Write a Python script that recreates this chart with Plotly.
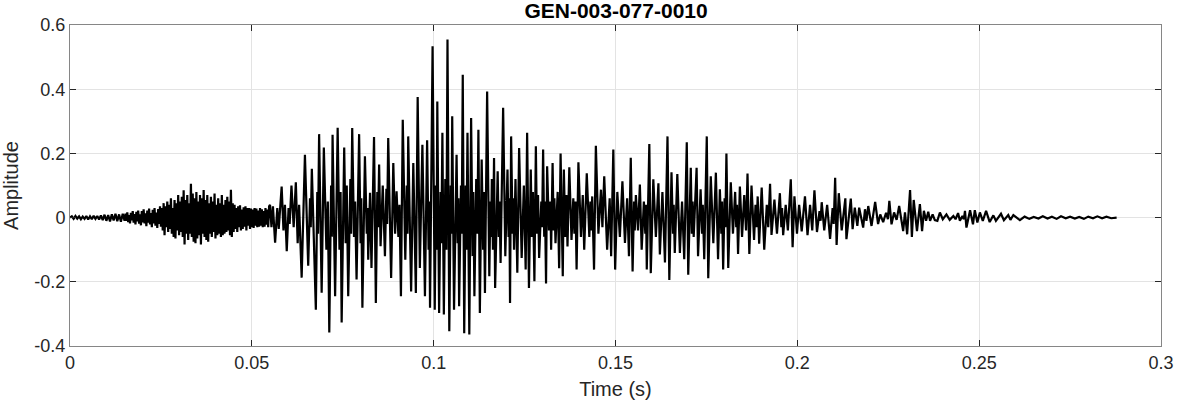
import plotly.graph_objects as go

# ---------------- data (time in ms, amplitude) ----------------
onset_t = [0.0, 0.5, 1.0, 1.5, 2.0, 2.5, 3.0, 3.5, 4.0, 4.5, 5.0, 5.5, 6.0, 6.5, 7.0, 7.5, 8.0, 8.5,
           9.0, 9.5, 10.0, 10.5, 11.0, 11.5, 12.0, 12.5, 13.0, 13.5, 14.0, 14.5, 15.0,
           15.25, 15.5, 15.75, 16.0, 16.25, 16.5, 16.75, 17.0, 17.25, 17.5, 17.75, 18.0, 18.25, 18.5,
           18.75, 19.0, 19.25, 19.5, 19.75, 20.0, 20.25, 20.5, 20.75, 21.0, 21.25, 21.5, 21.75, 22.0,
           22.25, 22.5, 22.75, 23.0, 23.25, 23.5, 23.75, 24.0, 24.25, 24.5, 24.75, 25.0,
           25.25, 25.5, 25.75, 26.0, 26.25, 26.5, 26.75, 27.0, 27.25, 27.5, 27.75, 28.0, 28.25, 28.5,
           28.75, 29.0, 29.25, 29.5, 29.75, 30.0, 30.25, 30.5, 30.75, 31.0, 31.25, 31.5, 31.75, 32.0,
           32.25, 32.5, 32.75, 33.0, 33.25, 33.5, 33.75, 34.0, 34.25, 34.5, 34.75, 35.0, 35.25, 35.5,
           35.75, 36.0, 36.25, 36.5, 36.75, 37.0, 37.25, 37.5, 37.75, 38.0, 38.25, 38.5, 38.75, 39.0,
           39.25, 39.5, 39.75, 40.0, 40.25, 40.5, 40.75, 41.0, 41.25, 41.5, 41.75, 42.0, 42.25, 42.5,
           42.75, 43.0, 43.25, 43.5, 43.75, 44.0, 44.25, 44.5, 44.75, 45.0,
           45.25, 45.5, 45.75, 46.0, 46.25, 46.5, 46.75, 47.0, 47.25, 47.5, 47.75, 48.0, 48.25, 48.5,
           48.75, 49.0, 49.25, 49.5, 49.75, 50.0, 50.25, 50.5, 50.75, 51.0, 51.25, 51.5, 51.75, 52.0,
           52.25, 52.5, 52.75, 53.0, 53.25, 53.5, 53.75, 54.0, 54.25, 54.5, 54.75]
onset_a = [0.000, 0.004, -0.004, 0.005, -0.003, 0.004, -0.005, 0.003, -0.004, 0.005, -0.006, 0.004,
           -0.005, 0.006, -0.004, 0.005, -0.006, 0.007, -0.008, 0.009, -0.010, 0.008, -0.012, 0.010,
           -0.009, 0.012, -0.011, 0.010, -0.013, 0.012, -0.010,
           0.012, -0.010, 0.016, -0.014, 0.008, -0.018, 0.015, -0.009, 0.020, -0.016, 0.011, -0.021,
           0.018, -0.012, 0.022, -0.019, 0.010, -0.024, 0.020, -0.015, 0.026, -0.018, 0.013, -0.027,
           0.022, -0.016, 0.028, -0.021, 0.014, -0.030, 0.024, -0.018, 0.030, -0.025, 0.016, -0.032,
           0.027, -0.020, 0.035, -0.028,
           0.030, -0.040, 0.045, -0.055, 0.035, -0.030, 0.050, -0.045, 0.040, -0.035, 0.060, -0.050,
           0.030, -0.060, 0.055, -0.065, 0.045, -0.040, 0.070, -0.055, 0.050, -0.045, 0.065, -0.060,
           0.085, -0.084, 0.055, -0.050, 0.070, -0.070, 0.045, -0.050, 0.105, -0.060, 0.075, -0.075,
           0.060, -0.080, 0.080, -0.065, 0.050, -0.055, 0.070, -0.084, 0.060, -0.050, 0.086, -0.060,
           0.055, -0.070, 0.070, -0.075, 0.045, -0.050, 0.065, -0.060, 0.050, -0.045, 0.075, -0.065,
           0.040, -0.055, 0.060, -0.050, 0.045, -0.060, 0.070, -0.055, 0.040, -0.050, 0.055, -0.045,
           0.065, -0.040, 0.050, -0.055, 0.087, -0.060, 0.045, -0.045,
           0.040, -0.035, 0.030, -0.045, 0.035, -0.030, 0.038, -0.040, 0.025, -0.035, 0.032, -0.028,
           0.035, -0.040, 0.030, -0.025, 0.030, -0.035, 0.028, -0.030, 0.025, -0.032, 0.030, -0.025,
           0.028, -0.030, 0.022, -0.028, 0.030, -0.025, 0.026, -0.030, 0.020, -0.028, 0.030, -0.022,
           0.025, -0.030, 0.035]

burst_t = [55.0, 55.4, 55.8, 56.4, 57.0, 57.4, 58.2, 58.7, 59.1, 59.6, 60.1, 60.4, 60.9, 61.5, 62.1,
           62.6, 63.0, 63.7, 64.6, 65.5, 66.0, 66.2, 66.5, 67.6, 68.0, 68.2, 68.5, 69.2, 69.8, 70.5,
           70.9, 71.3, 71.8, 72.0, 72.2, 72.9, 73.6, 74.1, 74.4, 74.7, 75.4, 75.8, 76.1, 76.5, 77.1,
           77.3, 77.6, 78.1, 78.4, 78.8, 79.5, 79.9, 80.1, 80.4, 81.1, 81.6, 81.8, 82.0, 82.5, 82.9,
           83.6, 84.1, 84.5, 84.7, 85.0, 85.4, 86.0, 86.6, 87.0, 87.2, 87.5, 88.3, 88.9, 89.4, 89.8,
           90.3, 90.6, 91.0, 91.5, 92.2, 92.6, 92.8, 93.0, 93.8, 94.4, 95.1, 95.6, 96.2, 96.6, 96.9,
           97.6, 98.2, 98.6, 98.8, 99.0, 99.7, 100.3, 100.6, 100.8, 101.0, 101.5]
burst_a = [0.040, -0.030, 0.035, -0.078, 0.030, -0.035, 0.097, -0.040, 0.040, -0.105, 0.030, -0.020,
           0.100, -0.030, 0.110, -0.080, 0.040, -0.187, 0.196, -0.150, 0.060, -0.030, 0.152, -0.287,
           0.080, -0.050, 0.260, -0.234, 0.218, -0.100, 0.050, -0.358, 0.100, -0.060, 0.258, -0.245,
           0.280, -0.100, 0.080, -0.327, 0.218, -0.080, 0.100, -0.245, 0.120, -0.050, 0.279, -0.060,
           0.050, -0.193, 0.260, -0.080, 0.060, -0.281, 0.191, -0.050, 0.030, -0.131, 0.077, -0.157,
           0.251, -0.266, 0.080, -0.030, 0.165, -0.089, 0.100, -0.120, 0.090, -0.020, 0.248, -0.188,
           0.170, -0.050, 0.082, -0.060, 0.040, -0.245, 0.305, -0.131, 0.100, -0.050, 0.253, -0.230,
           0.170, -0.235, 0.376, -0.157, 0.070, 0.227, -0.245, 0.241, -0.100, 0.050, -0.281, 0.534,
           -0.287, 0.100, -0.100, 0.362, -0.297]

peak_t = [101.9, 102.1, 102.4, 102.8, 103.2, 103.5, 103.8, 104.3, 104.7, 104.9, 105.1, 105.6, 106.3,
          106.6, 106.8, 107.0, 107.5, 107.7, 108.0, 108.4, 108.8, 109.0, 109.3, 109.8, 110.3, 110.7,
          110.9, 111.2, 111.7, 112.0, 112.3, 112.7, 113.2, 113.6, 113.8, 114.1, 114.7, 115.3, 115.6,
          115.8, 116.0, 116.3, 116.6, 116.9, 117.6, 117.9, 118.1, 118.4, 119.1, 119.7, 120.3, 120.6,
          120.8, 121.0, 121.3, 121.7, 121.9, 122.1, 122.5, 123.0, 123.5, 124.2, 124.8, 125.3, 125.7,
          126.2, 126.7, 127.0, 127.3, 127.7, 128.1, 128.4, 128.7, 129.0, 129.6, 129.8, 130.1, 130.4,
          130.6, 130.9, 131.2, 131.7, 132.1, 132.3, 132.7, 133.0, 133.2, 133.5, 134.1, 134.5, 134.9,
          135.5, 135.8, 136.2, 136.5, 136.8, 137.3, 137.9, 138.4, 138.7, 139.0, 139.3, 139.8, 140.5,
          141.0, 141.4, 142.1, 142.8, 143.1, 143.3, 143.6, 144.1, 144.6, 145.3, 146.0, 146.4, 146.9,
          147.7, 148.4, 148.8, 149.4, 149.9, 150.5]
peak_a = [0.080, -0.080, 0.264, -0.302, 0.120, -0.100, 0.555, -0.354, 0.100, -0.050, 0.316, -0.287,
          0.196, -0.080, 0.060, -0.276, 0.100, -0.050, 0.445, -0.360, 0.100, -0.100, 0.264, -0.364,
          0.310, -0.120, 0.080, -0.245, 0.120, -0.050, 0.274, -0.297, 0.181, -0.100, 0.080, -0.235,
          0.393, -0.183, 0.050, -0.060, 0.120, -0.100, 0.186, -0.219, 0.144, -0.060, 0.050, -0.141,
          0.342, -0.120, 0.150, -0.060, 0.060, -0.266, 0.253, -0.050, 0.060, -0.100, 0.120, -0.172,
          0.217, -0.126, 0.100, -0.162, 0.264, -0.219, 0.150, -0.060, 0.080, -0.198, 0.222, -0.050,
          0.070, -0.126, 0.050, -0.030, 0.212, -0.060, 0.050, -0.205, 0.160, -0.040, 0.050, -0.100,
          0.170, -0.040, 0.060, -0.080, 0.080, -0.158, 0.200, -0.183, 0.150, -0.060, 0.070, -0.090,
          0.157, -0.070, 0.060, -0.050, 0.050, -0.162, 0.172, -0.060, 0.070, -0.100, 0.138, -0.060,
          0.050, -0.040, 0.066, -0.162, 0.224, -0.050, 0.087, -0.030, 0.129, -0.100, 0.060, -0.120,
          0.212, -0.162, 0.080]

decay_t = [151.2, 151.9, 152.6, 153.2, 153.7, 154.2, 154.7, 155.1, 155.3, 155.6, 156.2, 156.7, 157.2,
           157.8, 158.2, 158.4, 158.6, 159.3, 159.7, 160.4, 161.1, 161.8, 162.2, 162.9, 163.6, 164.3,
           164.8, 165.4, 165.8, 166.0, 166.3, 167.0, 167.7, 168.3, 168.9, 169.6, 170.0, 170.7, 171.0,
           171.2, 171.5, 172.3, 172.7, 173.4, 173.8, 174.0, 174.4, 175.1, 175.5, 176.2, 176.9, 177.6,
           178.2, 178.7, 179.1, 179.3, 179.6, 180.0, 180.2, 180.5, 181.0, 181.7, 182.3, 182.9, 183.2,
           183.4, 183.7, 184.2, 184.8, 185.4, 185.9, 186.3, 186.8, 187.4, 188.1, 188.5, 188.8, 189.1,
           189.5, 190.2, 190.9, 191.6, 192.0, 192.5, 192.9, 193.7, 194.4, 195.2, 195.6, 195.8, 196.1,
           196.8, 197.4, 198.2, 198.7, 199.2, 199.9, 200.5, 201.2, 202.1, 202.8, 203.5, 204.1, 204.7,
           205.4, 206.1, 206.4, 206.7, 207.4, 208.2, 209.0, 209.7, 210.0, 210.4, 210.8, 211.4, 212.2,
           213.2, 213.5]
decay_a = [-0.060, 0.113, -0.079, 0.060, -0.120, 0.186, -0.168, 0.050, -0.040, 0.070, -0.040, 0.103,
           -0.100, 0.050, -0.050, 0.040, -0.162, 0.229, -0.173, 0.119, -0.060, 0.107, -0.115, 0.080,
           -0.140, 0.253, -0.194, 0.141, -0.050, 0.040, -0.110, 0.136, -0.110, 0.050, -0.130, 0.235,
           -0.178, 0.155, -0.050, 0.050, -0.060, 0.155, -0.120, 0.088, -0.050, 0.040, -0.130, 0.253,
           -0.189, 0.129, -0.080, 0.140, -0.130, 0.088, -0.050, 0.050, -0.162, 0.060, -0.030, 0.200,
           -0.157, 0.110, -0.050, 0.080, -0.030, 0.040, -0.113, 0.097, -0.060, 0.070, -0.040, 0.137,
           -0.113, 0.100, -0.070, 0.040, -0.030, 0.066, -0.081, 0.094, -0.100, 0.040, -0.030, 0.105,
           -0.054, 0.056, -0.050, 0.076, -0.030, 0.030, -0.055, 0.040, -0.040, 0.119, -0.092, 0.066,
           -0.050, 0.040, -0.043, 0.066, -0.055, 0.040, -0.040, 0.085, -0.045, 0.020, -0.010, 0.048,
           -0.040, 0.040, -0.066, 0.030, -0.020, 0.124, -0.085, 0.076, -0.040, 0.060, -0.067]

tail_t = [214.7, 215.2, 215.8, 216.5, 217.0, 218.1, 218.6, 219.0, 219.5, 220.4, 221.4, 222.2, 222.8,
          223.6, 224.4, 224.9, 225.3, 225.9, 226.6, 227.3, 228.0, 229.1, 229.6, 230.2, 231.0, 231.5,
          232.0, 232.9, 233.7, 234.3, 234.8, 235.4, 236.0, 236.5, 237.2, 237.8, 238.5, 239.2, 240.0,
          241.0, 241.9, 242.9, 243.5, 244.2, 244.7, 245.4, 245.8, 246.1, 246.5, 247.5, 248.3, 248.8,
          249.5, 250.2, 251.0, 251.9, 252.9, 253.9, 254.6, 256.0, 256.8, 258.0, 258.6, 259.4, 261.2,
          262.5, 263.8, 265.0, 266.3, 267.5, 268.8, 270.0, 271.3, 272.5, 273.8, 275.0, 276.3, 277.5,
          278.8, 280.0, 281.3, 282.5, 283.8, 285.0, 286.3, 287.8]
tail_a = [0.059, -0.036, 0.031, -0.026, 0.031, -0.031, 0.026, -0.010, 0.036, -0.026, 0.049, -0.020,
          0.010, -0.014, 0.015, -0.005, 0.052, -0.021, 0.016, -0.007, 0.036, -0.042, 0.016, -0.052,
          0.086, -0.060, 0.055, -0.042, 0.042, -0.042, 0.021, -0.010, 0.018, -0.010, 0.010, -0.008,
          -0.010, 0.016, -0.005, 0.010, -0.007, 0.005, -0.005, 0.014, -0.010, 0.005, -0.005, 0.021,
          -0.031, 0.023, -0.021, 0.023, -0.015, 0.016, -0.010, 0.021, -0.014, 0.007, -0.010, 0.012,
          -0.008, 0.008, -0.007, 0.008, -0.008, 0.003, -0.004, 0.002, -0.003, 0.004, -0.003, 0.003,
          -0.004, 0.004, -0.002, 0.003, -0.003, 0.002, -0.004, 0.003, -0.002, 0.004, -0.002, 0.003,
          -0.002, 0.000]

x_tick_vals = [0, 0.05, 0.1, 0.15, 0.2, 0.25, 0.3]
x_tick_text = ["0", "0.05", "0.1", "0.15", "0.2", "0.25", "0.3"]
y_tick_vals = [-0.4, -0.2, 0, 0.2, 0.4, 0.6]
y_tick_text = ["-0.4", "-0.2", "0", "0.2", "0.4", "0.6"]

title_text = "GEN-003-077-0010"
x_label = "Time (s)"
y_label = "Amplitude"

# ---------------- assemble ----------------
t_ms = onset_t + burst_t + peak_t + decay_t + tail_t
amp = onset_a + burst_a + peak_a + decay_a + tail_a
t_s = [v / 1000.0 for v in t_ms]

FONT = "Liberation Sans, Arial, Helvetica, sans-serif"
AX_COLOR = "#868686"
TXT = "#262626"

fig = go.Figure()
fig.add_trace(go.Scatter(x=t_s, y=amp, mode="lines",
                         line=dict(color="black", width=2.2),
                         showlegend=False, hoverinfo="x+y"))

axis_common = dict(
    showline=True, linecolor=AX_COLOR, linewidth=1, mirror="ticks",
    ticks="inside", ticklen=6, tickcolor=TXT, tickwidth=1,
    showgrid=True, gridcolor="#e3e3e3", gridwidth=1,
    zeroline=False, automargin=False,
    tickfont=dict(family=FONT, size=18, color=TXT),
)

fig.update_layout(
    width=1177, height=404,
    margin=dict(l=70, r=16, t=25, b=58),
    paper_bgcolor="white", plot_bgcolor="white",
    title=dict(text="<b>" + title_text + "</b>", x=0.5234, xanchor="center",
               y=1 - 11 / 404, yanchor="middle", yref="container",
               font=dict(family=FONT, size=21, color="black")),
    xaxis=dict(range=[0, 0.3], tickvals=x_tick_vals, ticktext=x_tick_text,
               title=dict(text=x_label, font=dict(family=FONT, size=20, color=TXT), standoff=10),
               **axis_common),
    yaxis=dict(range=[-0.4, 0.6], tickvals=y_tick_vals, ticktext=y_tick_text,
               title=dict(text=y_label, font=dict(family=FONT, size=20, color=TXT), standoff=10),
               **axis_common),
)

# the page's default 8px body margin would shift the figure; remove it
fig.write_html("out.html", config={"displayModeBar": False},
               post_script="document.body.style.margin='0';")
